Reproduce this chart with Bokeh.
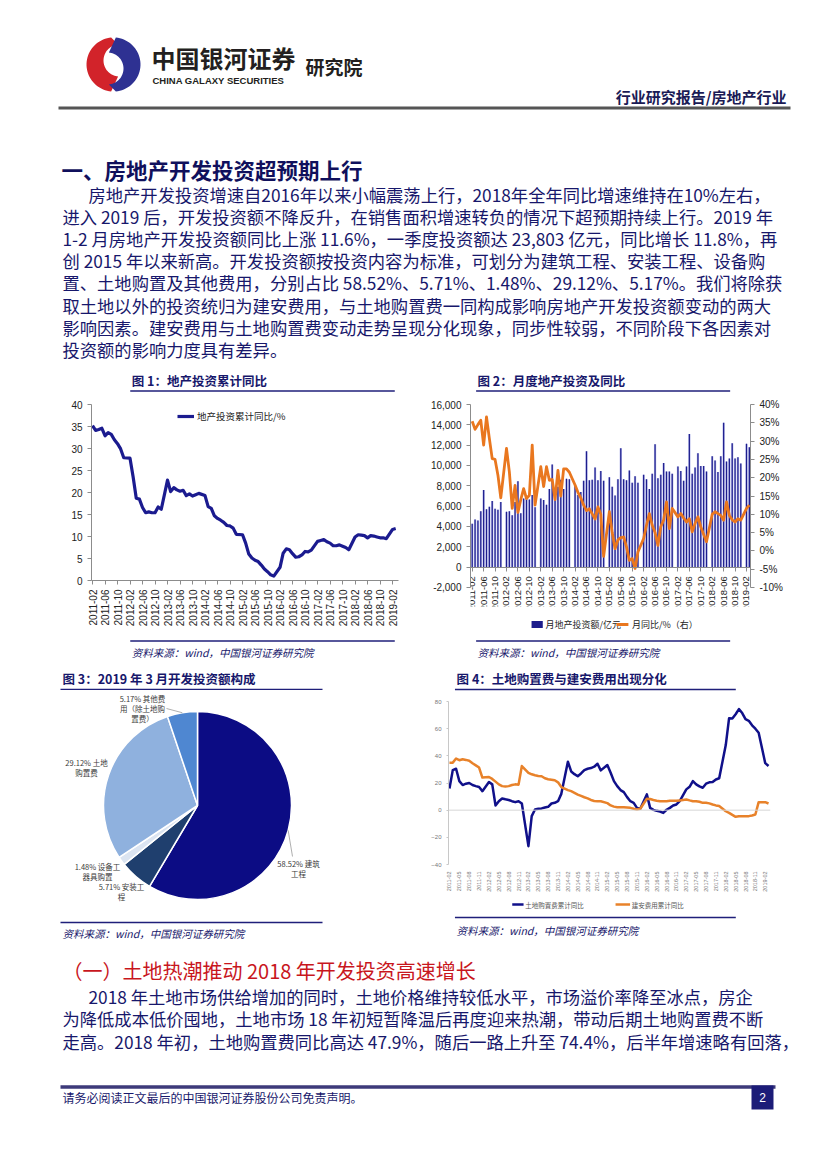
import math
import numpy as np
from bokeh.plotting import figure
from bokeh.layouts import column, row
from bokeh.models import (Range1d, LinearAxis, FixedTicker, NumeralTickFormatter, Spacer,
                          PrintfTickFormatter, Legend, LegendItem, Span, ColumnDataSource)
from bokeh.embed import file_html
from bokeh.resources import INLINE
from bokeh.core.properties import value

CJK = "Noto Sans CJK SC"
LAT = "Liberation Sans"
NAVY = "#17176b"

# ---------------- DATA ----------------
# monthly observations Feb-2011 .. Mar-2019 (no separate January release)
months = [f"{y}-{m:02d}" for y in range(2011, 2020) for m in range(2, 13)
          if not (y == 2019 and m > 3)]

# Fig.1 real-estate investment, cumulative YoY (%)
inv_cum_yoy = [
    35.2, 34.1, 34.3, 34.6, 32.9, 33.6, 33.2, 32.0, 31.1, 29.9, 27.9,
    27.8, 23.5, 18.7, 18.5, 16.6, 15.4, 15.6, 15.4, 15.4, 16.7, 16.2,
    22.8, 20.2, 21.1, 20.6, 20.3, 20.5, 19.3, 19.7, 19.2, 19.5, 19.8,
    19.3, 16.8, 16.4, 14.7, 14.1, 13.7, 13.2, 12.5, 12.4, 11.9, 10.5,
    10.4, 8.5, 6.0, 5.1, 4.6, 4.3, 3.5, 2.6, 2.0, 1.3, 1.0,
    3.0, 6.2, 7.2, 7.0, 6.1, 5.3, 5.4, 5.8, 6.6, 6.5, 6.9,
    8.9, 9.1, 9.3, 8.8, 8.5, 7.9, 7.9, 8.1, 7.8, 7.5, 7.0,
    9.9, 10.4, 10.3, 10.2, 9.7, 10.2, 10.1, 9.9, 9.7, 9.7, 9.5,
    11.6, 11.8]

# Fig.2 monthly investment (亿元) and monthly YoY (%)
monthly_inv = [
    4270, 4700, 4600, 5500, 7600, 5700, 5950, 6500, 5750, 5650, 6400,
    5450, 5500, 5100, 6400, 8450, 5300, 6750, 6750, 6650, 7100, 5900,
    6750, 6600, 6150, 7700, 10100, 7550, 7900, 8600, 7700, 8700, 8650,
    8050, 7100, 7400, 8500, 11400, 8550, 8600, 9800, 8550, 9450, 8500,
    8850, 7900, 7050, 8650, 11700, 8650, 8550, 9500, 8300, 8950, 8300,
    9100, 8650, 7700, 9200, 12100, 8750, 9100, 10250, 9400, 9400, 9200,
    9900, 9450, 8500, 9900, 13100, 9200, 9800, 11200, 9950, 9950, 9400,
    10900, 10500, 9350, 10900, 14200, 10400, 10700, 12200, 10700, 10800, 10200,
    12150, 11800]
monthly_yoy = [
    35.4, 33.2, 34.5, 35.7, 28.9, 36.6, 30.7, 25.2, 25.0, 20.7, 14.5,
    28.0, 21.6, 11.6, 17.9, 10.5, 14.0, 17.0, 14.3, 15.2, 28.9, 12.5,
    23.0, 17.6, 23.0, 19.3, 19.5, 14.0, 22.0, 15.0, 22.4, 22.4, 21.5,
    18.0, 16.0, 14.5, 12.5, 11.0, 11.5, 10.1, 8.7, 12.0, 10.0, -1.5,
    10.7, 5.0, 0.6, 3.0, 3.6, 3.8, 1.1, -2.6, -2.1, -4.8, -0.3,
    3.4, 7.0, 10.2, 7.0, 5.0, 1.5, 6.6, 8.4, 13.4, 6.1, 11.6,
    9.3, 10.2, 9.0, 7.9, 8.8, 5.2, 7.5, 9.3, 6.6, 4.5, 2.5,
    10.0, 10.7, 10.2, 9.7, 8.4, 13.4, 9.7, 8.5, 7.9, 8.8, 8.4,
    11.6, 12.5]

# Fig.3 composition of development investment, Mar-2019 (%)
pie_names = ["建筑工程", "安装工程", "设备工器具购置", "土地购置费", "其他费用（除土地购置费）"]
pie_values = [58.52, 5.71, 1.48, 29.12, 5.17]

# Fig.4 cumulative YoY (%): land purchase fee / construction & installation
land_yoy = [
    16.0, 29.5, 30.5, 21.4, 18.5, 19.5, 20.0, 18.5, 17.7, 17.0, 14.0,
    20.7, 19.0, 3.4, 6.6, 8.6, 8.0, 7.5, 6.6, 5.9, 6.6, 4.9,
    -26.5, -4.4, 0.5, 1.0, 1.3, 2.0, 2.5, 4.9, 5.4, 6.6, 12.0,
    35.7, 28.5, 26.5, 25.0, 27.0, 29.5, 30.5, 31.0, 32.0, 34.2, 29.3,
    33.2, 27.6, 21.4, 17.7, 14.8, 13.3, 9.6, 6.6, 5.4, 1.7, 1.0,
    11.6, 1.7, 0.2, -0.5, -1.0, -2.0, 0.3, 1.7, 3.4, 4.2, 6.6,
    15.3, 17.2, 21.4, 19.0, 17.5, 16.5, 19.5, 20.5, 20.7, 22.6, 23.5,
    47.9, 67.6, 67.5, 70.6, 74.4, 71.5, 67.0, 65.8, 62.5, 60.0, 57.0,
    34.6, 32.5]
build_yoy = [
    35.0, 35.0, 38.0, 36.8, 37.5, 37.0, 36.4, 34.5, 33.0, 31.4, 24.0,
    24.4, 23.0, 21.0, 19.0, 17.7, 17.5, 17.7, 18.5, 19.0, 18.8, 32.5,
    27.5, 26.4, 25.7, 25.2, 25.0, 23.5, 22.8, 22.4, 22.0, 20.5, 17.0,
    14.8, 14.0, 12.8, 11.5, 10.5, 9.5, 8.7, 7.5, 6.8, 6.6, 6.6,
    5.2, 3.5, 2.6, 2.2, 2.2, 2.2, 2.0, 1.7, 1.0, 0.5, 1.0,
    8.4, 8.2, 7.5, 7.0, 6.6, 6.6, 6.6, 7.0, 7.0, 6.9, 7.2,
    7.9, 7.2, 6.6, 6.6, 6.2, 5.4, 5.4, 5.0, 4.2, 3.5, 3.0,
    -0.8, -2.0, -3.5, -4.9, -4.5, -4.4, -4.4, -4.4, -3.9, -3.2, 5.9,
    5.9, 4.9]

# month index (0 = 2011-02)
midx = [(int(s[:4]) - 2011) * 12 + int(s[5:]) - 2 for s in months]


def tick_label(m):
    k = m + 1
    return f"{2011 + k // 12}-{k % 12 + 1:02d}"


# ---------------- helpers ----------------
def pix(x0, x1, y0, y1):
    f = figure(width=x1 - x0, height=y1 - y0, x_range=Range1d(x0, x1),
               y_range=Range1d(y1, y0), output_backend="svg", toolbar_location=None,
               min_border=0, x_axis_type=None, y_axis_type=None)
    f.outline_line_color = None
    f.background_fill_color = "white"
    f.border_fill_color = "white"
    return f


def put(f, x, y, s, size, color=NAVY, font=CJK, style="normal", align="left"):
    f.text(x=[x], y=[y], text=[s], text_font=value(font), text_font_size=value(f"{size}px"),
           text_color=color, text_font_style=style, text_align=align, text_baseline="middle")


def rule(f, x0, x1, y, color="#1f1f7a", w=1.5):
    f.segment(x0=[x0], y0=[y], x1=[x1], y1=[y], line_color=color, line_width=w)


def style_axis(ax, size, color="#222222", line="#8c8c8c"):
    ax.major_label_text_font = LAT
    ax.major_label_text_font_size = f"{size}px"
    ax.major_label_text_color = color
    ax.axis_line_color = line
    ax.major_tick_line_color = line
    ax.minor_tick_line_color = None
    ax.major_tick_in = 0
    ax.major_tick_out = 4


SOURCE = "资料来源：wind，中国银河证券研究院"

# ---------------- top block (page y 8..368) ----------------
top = pix(8, 819, 8, 368)


def arc(cx, cy, r, a0, a1, n=40):
    t = np.radians(np.linspace(a0, a1, n))
    return cx + r * np.cos(t), cy - r * np.sin(t)


ox, oy = arc(113, 64, 27, 95, 265)
ix, iy = arc(119, 60, 16, 265, 95)
top.patch(np.concatenate([ox, ix]), np.concatenate([oy, iy]), fill_color="#d2232a", line_color=None)
ox, oy = arc(113, 64, 27, 275, 445)
ix, iy = arc(107, 68, 16, 445, 275)
top.patch(np.concatenate([ox, ix]), np.concatenate([oy, iy]), fill_color="#2e3192", line_color=None)
put(top, 151, 57, "中国银河证券", 24, "#231f20", style="bold")
put(top, 152, 80, "CHINA GALAXY SECURITIES", 9.5, "#231f20", font=LAT, style="bold")
put(top, 305, 66, "研究院", 19, "#231f20", style="bold")
put(top, 786, 96, "行业研究报告/房地产行业", 15, "#1a1a55", style="bold", align="right")
rule(top, 58, 790, 107.5, color="#555555", w=3)

put(top, 61, 169, "一、房地产开发投资超预期上行", 21.5, "#10105c", style="bold")
body = [
    "房地产开发投资增速自2016年以来小幅震荡上行，2018年全年同比增速维持在10%左右，",
    "进入 2019 后，开发投资额不降反升，在销售面积增速转负的情况下超预期持续上行。2019 年",
    "1-2 月房地产开发投资额同比上涨 11.6%，一季度投资额达 23,803 亿元，同比增长 11.8%，再",
    "创 2015 年以来新高。开发投资额按投资内容为标准，可划分为建筑工程、安装工程、设备购",
    "置、土地购置及其他费用，分别占比 58.52%、5.71%、1.48%、29.12%、5.17%。我们将除获",
    "取土地以外的投资统归为建安费用，与土地购置费一同构成影响房地产开发投资额变动的两大",
    "影响因素。建安费用与土地购置费变动走势呈现分化现象，同步性较弱，不同阶段下各因素对",
    "投资额的影响力度具有差异。",
]
for i, s in enumerate(body):
    put(top, 88 if i == 0 else 62, 194 + 22.1 * i, s, 17.3)

# ---------------- Fig.1 ----------------
t1 = pix(8, 420, 368, 394)
put(t1, 62, 380, "图 1：地产投资累计同比", 12.5, style="bold")
rule(t1, 60, 415, 390.5)

p1 = figure(width=412, height=243, x_range=Range1d(-0.32, 97.9), y_range=Range1d(0, 40),
            output_backend="svg", toolbar_location=None, min_border_left=83,
            min_border_right=22, min_border_top=10, min_border_bottom=57)
p1.grid.visible = False
p1.outline_line_color = None
src1 = ColumnDataSource(dict(m=midx, v=inv_cum_yoy))
r1 = p1.line("m", "v", source=src1, line_width=3.2, line_color="#1b1b8f", line_join="round")
p1.yaxis.ticker = FixedTicker(ticks=list(range(0, 41, 5)))
xt = list(range(0, 97, 4))
p1.xaxis.ticker = FixedTicker(ticks=xt)
p1.xaxis.major_label_overrides = {t: tick_label(t) for t in xt}
p1.xaxis.major_label_orientation = math.pi / 2
style_axis(p1.xaxis[0], 10)
style_axis(p1.yaxis[0], 10)
leg1 = Legend(items=[LegendItem(label=value("地产投资累计同比/%"), renderers=[r1])],
              location=(86, 157), label_text_font=CJK, label_text_font_size="9.5px",
              label_text_color="#222222", glyph_width=17, glyph_height=12, label_height=12,
              padding=0, margin=0, border_line_color=None, background_fill_alpha=0,
              label_standoff=3)
p1.add_layout(leg1)

s1 = pix(8, 420, 637, 665)
rule(s1, 60, 415, 640.5)
put(s1, 62, 652, SOURCE, 10.5, style="italic")

# ---------------- Fig.2 ----------------
t2 = pix(420, 819, 368, 394)
put(t2, 430, 380, "图 2：月度地产投资及同比", 12.5, style="bold")
rule(t2, 428, 790, 390.5)

# frame extends below -2,000 so that the category labels hanging from the 0 line stay visible
p2 = figure(width=399, height=216, x_range=Range1d(-0.6, 97.4), y_range=Range1d(-3869, 16000),
            output_backend="svg", toolbar_location=None, min_border_left=50,
            min_border_right=69, min_border_top=10, min_border_bottom=4)
p2.grid.visible = False
p2.outline_line_color = None
p2.extra_y_ranges = {"pct": Range1d(-15.19, 40)}
src2 = ColumnDataSource(dict(m=midx, inv=monthly_inv, yoy=monthly_yoy))
p2.vbar(x="m", top="inv", bottom=0, width=0.78, source=src2, fill_color="#b3b6ea", line_color=None)
p2.vbar(x="m", top="inv", bottom=0, width=0.42, source=src2, fill_color="#1d1d8c", line_color=None)
p2.line("m", "yoy", source=src2, y_range_name="pct", line_width=2.8, line_color="#e9771f",
        line_join="round")
p2.yaxis.ticker = FixedTicker(ticks=list(range(-2000, 16001, 2000)))
p2.yaxis.formatter = NumeralTickFormatter(format="0,0")
p2.yaxis.bounds = (-2000, 16000)
rax = LinearAxis(y_range_name="pct", ticker=FixedTicker(ticks=list(range(-10, 41, 5))),
                 formatter=PrintfTickFormatter(format="%d%%"), bounds=(-10, 40))
p2.add_layout(rax, "right")
p2.xaxis.ticker = FixedTicker(ticks=xt)
p2.xaxis.major_label_overrides = {t: tick_label(t) for t in xt}
p2.xaxis.major_label_orientation = math.pi / 2
p2.xaxis.fixed_location = 0
style_axis(p2.xaxis[0], 9.5)
style_axis(p2.yaxis[0], 10)
style_axis(rax, 10)

s2 = pix(420, 819, 610, 665)
s2.quad(left=[507], right=[523], top=[620.5], bottom=[627.5], fill_color="#1d1d8c", line_color=None)
put(s2, 527, 624, "月地产投资额/亿元", 9, "#222222")
s2.segment(x0=[628], y0=[624], x1=[645], y1=[624], line_color="#e9771f", line_width=3)
put(s2, 650, 624, "月同比/%（右）", 9, "#222222")
rule(s2, 428, 790, 640.5)
put(s2, 430, 652, SOURCE, 10.5, style="italic")

# ---------------- Fig.3 ----------------
t3 = pix(8, 420, 665, 690)
put(t3, 62, 678, "图 3：2019 年 3 月开发投资额构成", 12.5, style="bold")
rule(t3, 60, 322, 689)

R = 94.0
CXP, CYP = 197.0, 805.0
p3 = figure(width=412, height=230, x_range=Range1d((8 - CXP) / R, (420 - CXP) / R),
            y_range=Range1d((CYP - 920) / R, (CYP - 690) / R), output_backend="svg",
            toolbar_location=None, min_border=0, x_axis_type=None, y_axis_type=None)
p3.outline_line_color = None
pie_colors = ["#0c0c84", "#1f3f6e", "#dbe4f1", "#8fb1de", "#4f87d1"]
frac = np.array(pie_values) / sum(pie_values)
cum = np.concatenate([[0.0], np.cumsum(frac)])
src3 = ColumnDataSource(dict(start=np.pi / 2 - 2 * np.pi * cum[:-1],
                             end=np.pi / 2 - 2 * np.pi * cum[1:], color=pie_colors))
p3.wedge(x=0, y=0, radius=1, start_angle="start", end_angle="end", direction="clock",
         fill_color="color", line_color="white", line_width=1.5, source=src3)


def to_d(px, py):
    return (px - CXP) / R, (CYP - py) / R


first_len = [2, 3, 3, 2, 3]
label_pos = [(298, 863), (121, 886), (97, 866), (86, 762), (142, 698)]
for name, v, k, (lx, ly) in zip(pie_names, pie_values, first_len, label_pos):
    rest = name[k:]
    lines = [f"{v:.2f}% {name[:k]}"] + [rest[i:i + 6] for i in range(0, len(rest), 6)]
    for j, ln in enumerate(lines):
        dx, dy = to_d(lx, ly + 10 * j)
        p3.text(x=[dx], y=[dy], text=[ln], text_font=value(CJK), text_font_size=value("7.5px"),
                text_color="#3a3a3a", text_align="center", text_baseline="middle")
mid = np.pi / 2 - 2 * np.pi * (cum[:-1] + cum[1:]) / 2
for idx, (px, py) in [(0, (292, 856)), (4, (166, 708))]:
    ex, ey = math.cos(mid[idx]), math.sin(mid[idx])
    tx, ty = to_d(px, py)
    p3.segment(x0=[ex], y0=[ey], x1=[tx], y1=[ty], line_color="#9a9a9a", line_width=0.8)

s3 = pix(8, 420, 920, 945)
rule(s3, 60, 322, 922)
put(s3, 62, 933, SOURCE, 10.5, style="italic")

# ---------------- Fig.4 ----------------
t4 = pix(420, 819, 665, 692)
put(t4, 430, 678, "图 4：土地购置费与建安费用出现分化", 12.5, style="bold")
rule(t4, 428, 776, 689)

p4 = figure(width=399, height=205, x_range=Range1d(-0.3, 97.6), y_range=Range1d(-40, 80),
            output_backend="svg", toolbar_location=None, min_border_left=28,
            min_border_right=49, min_border_top=9, min_border_bottom=33)
p4.grid.visible = False
p4.outline_line_color = None
p4.add_layout(Span(location=0, dimension="width", line_color="#d6d6d6", line_width=1))
src4 = ColumnDataSource(dict(m=midx, land=land_yoy, build=build_yoy))
p4.line("m", "land", source=src4, line_width=2.5, line_color="#10108a", line_join="round")
p4.line("m", "build", source=src4, line_width=2.5, line_color="#e8822a", line_join="round")
p4.yaxis.ticker = FixedTicker(ticks=list(range(-40, 81, 20)))
xt4 = list(range(0, 97, 3))
p4.xaxis.ticker = FixedTicker(ticks=xt4)
p4.xaxis.major_label_overrides = {t: tick_label(t) for t in xt4}
p4.xaxis.major_label_orientation = math.pi / 2
style_axis(p4.yaxis[0], 6, color="#777777", line="#c8c8c8")
p4.yaxis.major_tick_out = 2
style_axis(p4.xaxis[0], 5.5, color="#777777", line=None)
p4.xaxis.major_tick_line_color = None
p4.xaxis.major_label_standoff = 3

s4 = pix(420, 819, 897, 945)
s4.segment(x0=[499], y0=[904], x1=[513], y1=[904], line_color="#10108a", line_width=2.5)
put(s4, 515, 904, "土地购置费累计同比", 6.5, "#555555")
s4.segment(x0=[627], y0=[904], x1=[645], y1=[904], line_color="#e8822a", line_width=2.5)
put(s4, 647, 904, "建安费用累计同比", 6.5, "#555555")
rule(s4, 428, 776, 917)
put(s4, 430, 930, SOURCE, 10.5, style="italic")

# ---------------- bottom block (page y 945..1161) ----------------
bot = pix(8, 819, 945, 1161)
put(bot, 62, 970, "（一）土地热潮推动 2018 年开发投资高速增长", 20, "#c8161d")
body2 = [
    "2018 年土地市场供给增加的同时，土地价格维持较低水平，市场溢价率降至冰点，房企",
    "为降低成本低价囤地，土地市场 18 年初短暂降温后再度迎来热潮，带动后期土地购置费不断",
    "走高。2018 年初，土地购置费同比高达 47.9%，随后一路上升至 74.4%，后半年增速略有回落，",
]
for i, s in enumerate(body2):
    put(bot, 88 if i == 0 else 62, 996 + 22.3 * i, s, 17.3)
rule(bot, 60, 775, 1086.5, color="#3d3a7a", w=3.5)
put(bot, 62, 1097, "请务必阅读正文最后的中国银河证券股份公司免责声明。", 12)
bot.quad(left=[751], right=[773], top=[1085], bottom=[1109], fill_color="#1c1c78", line_color=None)
put(bot, 762, 1097, "2", 12, "white", font=LAT, align="center")

page = column(
    top,
    row(column(t1, p1, s1, spacing=0), column(t2, p2, s2, spacing=0), spacing=0),
    row(column(t3, p3, s3, spacing=0), column(t4, p4, s4, spacing=0), spacing=0),
    bot,
    spacing=0,
)
# reproduce the 8px page margin (the Bokeh page template sets the body margin to 0)
layout = column(Spacer(width=819, height=8),
                row(Spacer(width=8, height=1153), page, spacing=0), spacing=0)

open("out.html", "w").write(file_html(layout, INLINE))
